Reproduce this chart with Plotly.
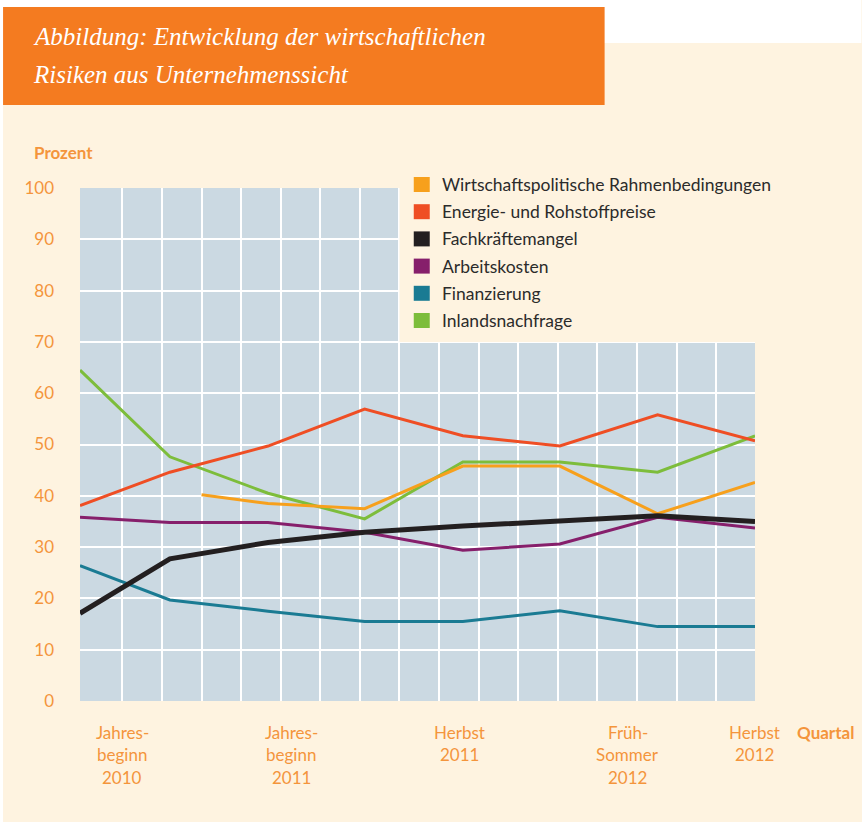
import plotly.graph_objects as go

# ---------------- data ----------------
survey_x = [-0.07, 2.2, 4.68, 7.12, 9.6, 12.05, 14.52, 16.98]
wirtschaft_x = [3.0, 4.68, 7.12, 9.6, 12.05, 14.52, 16.98]

wirtschaftspolitik = [40.2, 38.5, 37.5, 45.8, 45.8, 36.5, 42.6]
energie = [38.1, 44.6, 49.7, 56.9, 51.7, 49.7, 55.8, 50.7]
fachkraefte = [17.1, 27.7, 30.9, 32.9, 34.1, 35.1, 36.1, 35.0]
arbeitskosten = [35.8, 34.8, 34.8, 32.9, 29.4, 30.6, 35.8, 33.7]
finanzierung = [26.4, 19.7, 17.5, 15.5, 15.5, 17.6, 14.5, 14.5]
inlandsnachfrage = [64.5, 47.6, 40.5, 35.5, 46.6, 46.6, 44.6, 51.7]

series_names = ["Wirtschaftspolitische Rahmenbedingungen", "Energie- und Rohstoffpreise",
                "Fachkräftemangel", "Arbeitskosten", "Finanzierung", "Inlandsnachfrage"]
series_colors = ["#F7A01C", "#EF4E24", "#231F20", "#861F6B", "#1A7B93", "#7DBD3B"]

x_label_pos = [1.0, 5.26, 9.52, 13.76, 16.97]
x_label_lines = [["Jahres-", "beginn", "2010"], ["Jahres-", "beginn", "2011"],
                 ["Herbst", "2011"], ["Früh-", "Sommer", "2012"], ["Herbst", "2012"]]
y_ticks = [0, 10, 20, 30, 40, 50, 60, 70, 80, 90, 100]
title_lines = ["Abbildung: Entwicklung der wirtschaftlichen", "Risiken aus Unternehmenssicht"]

# ---------------- layout helpers ----------------
W, H = 862, 822
PL, PR, PT, PB = 80, 755.5, 188, 701


def fx(px):
    return (px - PL) / (PR - PL)


def fy(py):
    return (PB - py) / (PB - PT)


ORANGE_TXT = "#F4953C"
SANS = "Lato, 'Noto Sans', sans-serif"

fig = go.Figure()

order = [5, 4, 3, 1, 0, 2]
ys = [wirtschaftspolitik, energie, fachkraefte, arbeitskosten, finanzierung, inlandsnachfrage]
xs = [wirtschaft_x, survey_x, survey_x, survey_x, survey_x, survey_x]
widths = [3, 3, 5, 3, 3, 3]
for i in order:
    fig.add_trace(go.Scatter(x=xs[i], y=ys[i], mode="lines", name=series_names[i],
                             line=dict(color=series_colors[i], width=widths[i]),
                             showlegend=False, hoverinfo="skip"))

shapes = []
# white strips at top and left
shapes.append(dict(type="rect", xref="paper", yref="paper", x0=fx(0), x1=fx(W), y0=fy(43), y1=fy(0),
                   fillcolor="white", line_width=0, layer="below"))
shapes.append(dict(type="rect", xref="paper", yref="paper", x0=fx(0), x1=fx(3), y0=fy(H), y1=fy(0),
                   fillcolor="white", line_width=0, layer="below"))
# orange title box
shapes.append(dict(type="rect", xref="paper", yref="paper", x0=fx(3), x1=fx(605), y0=fy(105), y1=fy(7),
                   fillcolor="#F47B20", line_width=0, layer="below"))
# cream legend area covering plot top-right
shapes.append(dict(type="rect", xref="x", yref="y", x0=8.0, x1=17.2, y0=70, y1=101,
                   fillcolor="#FEF3E0", line_width=0, layer="above"))

annotations = []
# legend (manual)
for k, (nm, col) in enumerate(zip(series_names, series_colors)):
    cy = 184.5 + k * 27.2
    shapes.append(dict(type="rect", xref="paper", yref="paper", x0=fx(414), x1=fx(430),
                       y0=fy(cy + 7.5), y1=fy(cy - 7.5), fillcolor=col, line_width=0, layer="above"))
    annotations.append(dict(xref="paper", yref="paper", x=fx(440), y=fy(cy), text=nm, showarrow=False,
                            xanchor="left", yanchor="middle", font=dict(family=SANS, size=17.5, color="#2B2B2B")))

# title
for k, t in enumerate(title_lines):
    annotations.append(dict(xref="paper", yref="paper", x=fx(31), y=fy(36 + k * 38.5), text="<i>" + t + "</i>",
                            showarrow=False, xanchor="left", yanchor="middle",
                            font=dict(family="'Liberation Serif', serif", size=25, color="white")))

# axis titles
annotations.append(dict(xref="paper", yref="paper", x=fx(32), y=fy(152), text="<b>Prozent</b>", showarrow=False,
                        xanchor="left", yanchor="middle", font=dict(family=SANS, size=17, color=ORANGE_TXT)))
annotations.append(dict(xref="paper", yref="paper", x=fx(796), y=fy(732), text="<b>Quartal</b>", showarrow=False,
                        xanchor="left", yanchor="middle", font=dict(family=SANS, size=17, color=ORANGE_TXT)))

# x labels
for pos, lines in zip(x_label_pos, x_label_lines):
    for j, ln in enumerate(lines):
        annotations.append(dict(xref="x", yref="paper", x=pos, y=fy(732 + j * 22.5), text=ln, showarrow=False,
                                xanchor="center", yanchor="middle",
                                font=dict(family=SANS, size=17, color=ORANGE_TXT)))

fig.update_layout(
    width=W, height=H,
    margin=dict(l=PL, r=W - PR, t=PT, b=H - PB, pad=0),
    paper_bgcolor="#FEF3E0",
    plot_bgcolor="#CBD9E2",
    shapes=shapes,
    annotations=annotations,
    showlegend=False,
    xaxis=dict(range=[-0.07, 16.98], tickvals=list(range(1, 17)), showticklabels=False, ticks="",
               showgrid=True, gridcolor="white", gridwidth=1.5, zeroline=False, showline=False, fixedrange=True),
    yaxis=dict(range=[0, 100], tickvals=y_ticks, showgrid=True, gridcolor="white", gridwidth=1.5,
               zeroline=False, showline=False, ticks="", ticklabelstandoff=25,
               tickfont=dict(family=SANS, size=17, color=ORANGE_TXT), fixedrange=True),
)

fig.write_html("out.html", config={"displayModeBar": False},
               post_script="document.body.style.margin='0';")
